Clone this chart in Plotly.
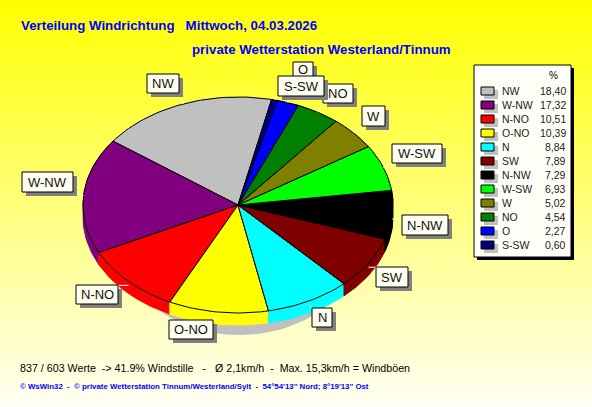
import math
import plotly.graph_objects as go

directions = ["NW", "W-NW", "N-NO", "O-NO", "N", "SW", "N-NW", "W-SW", "W", "NO", "O", "S-SW"]
percent = [18.40, 17.32, 10.51, 10.39, 8.84, 7.89, 7.29, 6.93, 5.02, 4.54, 2.27, 0.60]
percent_text = ["18,40", "17,32", "10,51", "10,39", "8,84", "7,89", "7,29", "6,93", "5,02", "4,54", "2,27", "0,60"]
colors = ["#C0C0C0", "#800080", "#FF0000", "#FFFF00", "#00FFFF", "#800000",
          "#000000", "#00FF00", "#808000", "#008000", "#0000FF", "#000080"]

# label box geometry (left, top, right, bottom), draw order matters
label_boxes = {
    "NW": (147, 74, 179, 93), "W-NW": (22, 172, 73, 192), "N-NO": (76, 285, 118, 304),
    "O-NO": (169, 320, 213, 339), "N": (312, 308, 332, 327), "SW": (376, 267, 408, 287),
    "N-NW": (402, 215, 448, 235), "W-SW": (392, 144, 442, 163), "W": (362, 106, 385, 126),
    "O": (293, 62, 313, 82), "NO": (323, 84, 353, 103), "S-SW": (278, 76, 324, 96),
}

W, H = 592, 407
CX, CY, RX, RY, DEPTH, START = 238, 205, 155, 108, 12, 12.5
FONT = "Liberation Sans"


def pt(t, dy=0, cx=CX, cy=CY, rx=RX, ry=RY):
    r = math.radians(t)
    return cx + rx * math.sin(r), cy - ry * math.cos(r) + dy


def arc(t0, t1, dy=0):
    n = max(2, int(abs(t1 - t0) / 1.5) + 1)
    return [pt(t0 + (t1 - t0) * i / n, dy) for i in range(n + 1)]


fig = go.Figure()
fig.add_trace(go.Heatmap(x=[0, W], y=[0, H], z=[[0, 0], [1, 1]], zsmooth="best", showscale=False,
                         colorscale=[[0, "#FFFF00"], [1, "#FFFFF4"]], hoverinfo="skip"))


def poly(points, fill, line="rgba(0,0,0,0)", width=1):
    xs = [p[0] for p in points] + [points[0][0]]
    ys = [p[1] for p in points] + [points[0][1]]
    fig.add_trace(go.Scatter(x=xs, y=ys, mode="lines", fill="toself", fillcolor=fill,
                             line=dict(color=line, width=width), hoverinfo="skip", showlegend=False))


# cast shadow below the pie
poly([pt(i * 3, 0, 240, 226, 128, 109) for i in range(120)], "#C0C0C0")

total = sum(percent)
spans = []
t = START
for v in percent:
    t1 = t - v / total * 360
    spans.append((t, t1))
    t = t1

# side wall
for (t0, t1), c in zip(spans, colors):
    poly(arc(t0, t1) + arc(t1, t0, DEPTH), c, c, 1)
# top face
for (t0, t1), c in zip(spans, colors):
    poly([(CX, CY)] + arc(t0, t1), c, "#000000", 1)

# leader lines from each slice's middle to its label
for d, (t0, t1) in zip(directions, spans):
    x0, y0, x1, y1 = label_boxes[d]
    mx, my = pt((t0 + t1) / 2, 4 if 90 < abs((t0 + t1) / 2) < 270 else 0)
    ex, ey = min(max(mx, x0), x1), min(max(my, y0), y1)
    fig.add_trace(go.Scatter(x=[mx, ex], y=[my, ey], mode="lines", line=dict(color="#FFFFFF", width=1),
                             hoverinfo="skip", showlegend=False))

shapes, annotations = [], []


def rect(x0, y0, x1, y1, fill, line=None):
    shapes.append(dict(type="rect", xref="x", yref="y", x0=x0, y0=y0, x1=x1, y1=y1, fillcolor=fill,
                       line=dict(color=line or fill, width=1 if line else 0), layer="above"))


def text(x, y, s, size, color="#000000", anchor="left", bold=False):
    annotations.append(dict(x=x, y=y, xref="x", yref="y", text=f"<b>{s}</b>" if bold else s, showarrow=False,
                            xanchor=anchor, yanchor="middle", borderpad=0,
                            font=dict(family=FONT, size=size, color=color)))


for name, (x0, y0, x1, y1) in label_boxes.items():
    rect(x0 + 4, y0 + 4, x1 + 4, y1 + 4, "#808080")
    rect(x0, y0, x1, y1, "#FFFFF0", "#000000")
    ty = (y0 + y1) / 2 - (3 if name == "O" else 0)
    text((x0 + x1) / 2, ty, name, 13, "#111111", anchor="center")

# legend panel
rect(477, 68, 574, 260, "#000000")
rect(474, 65, 571, 257, "#FFFFF8", "#000000")
text(553, 75, "%", 10, anchor="center")
for i, (d, p, c) in enumerate(zip(directions, percent_text, colors)):
    y = 91 + i * 14
    rect(484, y - 1, 498, y + 8, "#C0C0C0")
    rect(481, y - 4, 494, y + 4, c, "#000000")
    text(501, y, d, 10.5, "#222222")
    text(567, y, p, 10.5, "#222222", anchor="right")

nb = "\u00a0"
text(20, 25, f"Verteilung Windrichtung{nb*3}Mittwoch, 04.03.2026", 13.3, "#0000FF", bold=True)
text(191, 49, "private Wetterstation Westerland/Tinnum", 13.3, "#0000FF", bold=True)
text(19, 368, f"837 / 603 Werte{nb*2}-> 41.9% Windstille{nb*3}-{nb*3}Ø 2,1km/h{nb*2}-{nb*2}Max. 15,3km/h = Windböen", 10.7)
text(19, 386, f"© WsWin32{nb*2}-{nb*2}© private Wetterstation Tinnum/Westerland/Sylt{nb*2}-{nb*2}54°54'13'' Nord; 8°19'13'' Ost",
     7.85, "#0000FF", bold=True)

fig.update_layout(width=W, height=H, margin=dict(l=0, r=0, t=0, b=0), showlegend=False,
                  paper_bgcolor="#FFFFF4", plot_bgcolor="#FFFFF4",
                  xaxis=dict(range=[0, W], visible=False, fixedrange=True),
                  yaxis=dict(range=[H, 0], visible=False, fixedrange=True),
                  shapes=shapes, annotations=annotations)
fig.write_html("out.html", config=dict(displayModeBar=False),
               post_script="document.body.style.margin='0';")
